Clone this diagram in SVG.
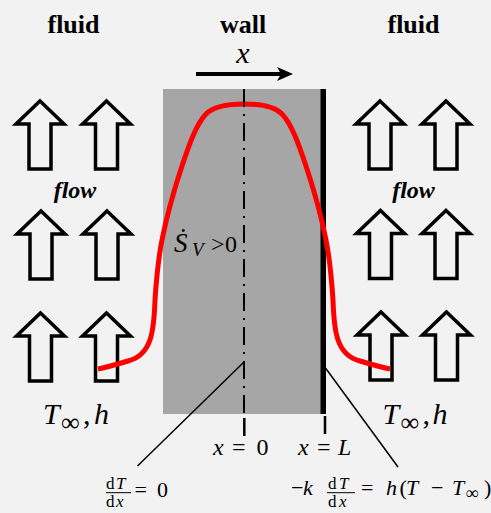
<svg xmlns="http://www.w3.org/2000/svg" width="491" height="513" viewBox="0 0 491 513">
<style>
.lead{stroke:#000;stroke-width:1.5;fill:none}
.tick{stroke:#000;stroke-width:2.5}
.bar{stroke:#000;stroke-width:1}
</style>
<defs>
<path id="ba" d="M0,0 L24,23 L11,23 L11,68 L-11,68 L-11,23 L-24,23 Z" fill="#F2F2F2" stroke="#000" stroke-width="3.5" stroke-linejoin="miter"/>
</defs>
<rect x="0" y="0" width="491" height="513" fill="#F2F2F2"/>

<g id="titles">
<text font-family="Liberation Serif, serif" font-size="26" font-weight="bold" text-anchor="middle" x="73.5" y="33">fluid</text>
<text font-family="Liberation Serif, serif" font-size="26" font-weight="bold" text-anchor="middle" x="243" y="33">wall</text>
<text font-family="Liberation Serif, serif" font-size="26" font-weight="bold" text-anchor="middle" x="413.5" y="33">fluid</text>
</g>

<g id="x-axis">
<text font-family="Liberation Serif, serif" font-style="italic" x="243" y="63" font-size="30" text-anchor="middle">x</text>
<line x1="196" y1="74" x2="282" y2="74" stroke="#000" stroke-width="4"/>
<path d="M293,74 L277,67 L281,74 L277,81 Z" fill="#000"/>
</g>

<g id="wall">
<rect x="163" y="89" width="159" height="325" fill="#A6A6A6"/>
<rect x="320.5" y="89" width="5.5" height="325" fill="#000"/>
</g>

<g id="fluid-left">
<use href="#ba" x="40" y="101"/>
<use href="#ba" x="106.5" y="101"/>
<use href="#ba" x="41" y="211"/>
<use href="#ba" x="107" y="211"/>
<use href="#ba" x="40.5" y="313"/>
<use href="#ba" x="106.5" y="313"/>
<text font-family="Liberation Serif, serif" font-size="24" font-weight="bold" font-style="italic" text-anchor="middle" x="75" y="198">flow</text>
<text font-family="Liberation Serif, serif" font-size="30" x="43" y="424"><tspan font-style="italic">T</tspan><tspan x="61" y="431" font-size="26">∞</tspan><tspan x="83" y="424">,</tspan><tspan font-style="italic" x="94" y="424">h</tspan></text>
</g>

<g id="fluid-right">
<use href="#ba" x="380" y="101"/>
<use href="#ba" x="446" y="101"/>
<use href="#ba" x="380.5" y="210.5"/>
<use href="#ba" x="446" y="210.5"/>
<use href="#ba" x="381" y="312"/>
<use href="#ba" x="446.5" y="312"/>
<text font-family="Liberation Serif, serif" font-size="24" font-weight="bold" font-style="italic" text-anchor="middle" x="413.5" y="198">flow</text>
<text font-family="Liberation Serif, serif" font-size="30" x="382.5" y="423.5"><tspan font-style="italic">T</tspan><tspan x="400.5" y="430.5" font-size="26">∞</tspan><tspan x="422.5" y="423.5">,</tspan><tspan font-style="italic" x="432.5" y="423.5">h</tspan></text>
</g>

<g id="temperature">
<path d="M98,369 C108,367 118,364 128,361 C152,355 154,330 155,300 C156,285 158,260 162,240 C166,220 174,190 182,166 C188,148 196,124 206,114 C214,106 228,104 244,104 C260,104 274,106 282,114 C292,124 300,148 306,166 C314,190 322,220 326,240 C330,260 332,285 333,300 C334,330 336,355 360,361 C370,364 380,367 390,369" fill="none" stroke="#FF0000" stroke-width="5"/>
</g>

<g id="centerline">
<line x1="244" y1="89" x2="244" y2="414" stroke="#000" stroke-width="2" stroke-dasharray="18 7 2 7"/>
<line class="tick" x1="244.3" y1="418" x2="244.3" y2="436"/>
<line class="tick" x1="325" y1="416" x2="325" y2="434"/>
</g>

<g id="source">
<text font-family="Liberation Serif, serif" font-size="24"><tspan font-style="italic" x="174" y="252" font-size="27">Ṡ</tspan><tspan font-style="italic" x="192" y="256" font-size="19">V</tspan><tspan x="211" y="252">&gt;</tspan><tspan x="225" y="252">0</tspan></text>
</g>

<g id="positions">
<text font-family="Liberation Serif, serif" font-size="24"><tspan font-style="italic" x="213" y="455">x</tspan><tspan x="232" y="455">=</tspan><tspan x="256.5" y="455">0</tspan></text>
<text font-family="Liberation Serif, serif" font-size="24"><tspan font-style="italic" x="298" y="455">x</tspan><tspan x="317" y="455">=</tspan><tspan font-style="italic" x="338" y="455">L</tspan></text>
</g>

<g id="connectors">
<line class="lead" x1="244" y1="362" x2="137.5" y2="466"/>
<line class="lead" x1="325.5" y1="368" x2="398" y2="467"/>
</g>

<g id="bc-left">
<text font-family="Liberation Serif, serif" font-size="17"><tspan x="106" y="488.5">d</tspan><tspan font-style="italic" x="116" y="488.5">T</tspan></text>
<line class="bar" x1="106" y1="492.7" x2="131" y2="492.7"/>
<text font-family="Liberation Serif, serif" font-size="17"><tspan x="106" y="507">d</tspan><tspan font-style="italic" x="116" y="507">x</tspan></text>
<text font-family="Liberation Serif, serif" font-size="22"><tspan x="134.5" y="496.5">=</tspan><tspan x="157" y="496.5">0</tspan></text>
</g>

<g id="bc-right">
<text font-family="Liberation Serif, serif" font-size="22"><tspan x="291" y="495">−</tspan><tspan font-style="italic" x="303" y="495">k</tspan></text>
<text font-family="Liberation Serif, serif" font-size="17"><tspan x="328" y="488.5">d</tspan><tspan font-style="italic" x="339" y="488.5">T</tspan></text>
<line class="bar" x1="327" y1="492.7" x2="355" y2="492.7"/>
<text font-family="Liberation Serif, serif" font-size="17"><tspan x="328" y="507">d</tspan><tspan font-style="italic" x="339" y="507">x</tspan></text>
<text font-family="Liberation Serif, serif" font-size="22"><tspan x="361" y="495">=</tspan><tspan font-style="italic" x="386" y="495">h</tspan><tspan x="399.5" y="495">(</tspan><tspan font-style="italic" x="406" y="495">T</tspan><tspan x="431" y="495">−</tspan><tspan font-style="italic" x="452" y="495">T</tspan><tspan x="465.5" y="499" font-size="18">∞</tspan><tspan x="484" y="495">)</tspan></text>
</g>
</svg>
